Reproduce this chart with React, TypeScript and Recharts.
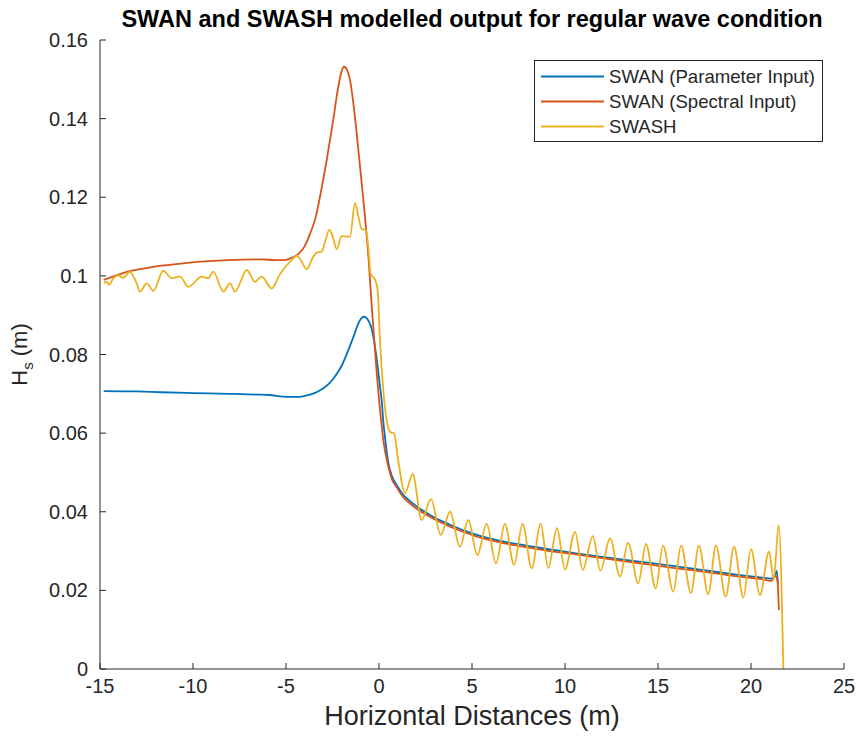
import React from 'react';
import { LineChart, Line, XAxis, YAxis, Legend, Label } from 'recharts';

const TITLE = 'SWAN and SWASH modelled output for regular wave condition';
const X_LABEL = 'Horizontal Distances (m)';

const xTicks = [-15, -10, -5, 0, 5, 10, 15, 20, 25];
const xTickLabels = ['-15', '-10', '-5', '0', '5', '10', '15', '20', '25'];
const yTicks = [0, 0.02, 0.04, 0.06, 0.08, 0.1, 0.12, 0.14, 0.16];
const yTickLabels = ['0', '0.02', '0.04', '0.06', '0.08', '0.1', '0.12', '0.14', '0.16'];

const seriesNames = ['SWAN (Parameter Input)', 'SWAN (Spectral Input)', 'SWASH'];
const seriesColors = ['#0072BD', '#D95319', '#EDB120'];

const swanParamX = [-14.8, -13, -11.7, -10, -8.1, -6.5, -5.9, -5.2, -4.9, -4.4, -3.8, -3.4, -3.1, -2.7, -2.37, -2.0, -1.65, -1.35, -1.11, -0.95, -0.8, -0.65, -0.43, -0.25, -0.1, 0.05, 0.15, 0.23, 0.32, 0.5, 0.7, 0.95, 1.3, 1.67, 2.1, 2.56, 3.2, 3.82, 4.7, 5.61, 6.5, 7.4, 8.3, 9.19, 10.5, 12, 14, 16, 18, 19.4, 20.5, 21.1, 21.3, 21.38, 21.45];
const swanParamY = [0.0707, 0.0706, 0.0704, 0.0702, 0.07, 0.0698, 0.0697, 0.0693, 0.0692, 0.0692, 0.0697, 0.0703, 0.0711, 0.0725, 0.0744, 0.0772, 0.0811, 0.0848, 0.0879, 0.0892, 0.0896, 0.0892, 0.0871, 0.083, 0.078, 0.072, 0.068, 0.063, 0.059, 0.0525, 0.049, 0.0468, 0.0443, 0.0427, 0.0411, 0.0397, 0.038, 0.0367, 0.035, 0.0336, 0.0326, 0.0318, 0.0311, 0.0304, 0.0295, 0.0285, 0.0273, 0.0261, 0.0248, 0.0239, 0.0233, 0.023, 0.024, 0.025, 0.0215];

const swanSpecX = [-14.8, -14.0, -13.5, -12.5, -11.7, -10.5, -9.9, -8.1, -6.3, -5.6, -5.1, -4.7, -4.3, -4.0, -3.7, -3.4, -3.17, -2.81, -2.46, -2.2, -2.0, -1.88, -1.75, -1.56, -1.38, -1.2, -0.84, -0.57, -0.39, -0.12, 0.15, 0.23, 0.5, 0.7, 0.95, 1.3, 1.67, 2.1, 2.56, 3.2, 3.82, 4.7, 5.61, 6.5, 7.4, 8.3, 9.19, 10.5, 12, 14, 16, 18, 19.4, 20.5, 21.1, 21.3, 21.42, 21.5];
const swanSpecY = [0.099, 0.1003, 0.1011, 0.102, 0.1026, 0.1032, 0.1035, 0.104, 0.1042, 0.104, 0.104, 0.1046, 0.1057, 0.1075, 0.1108, 0.115, 0.1202, 0.1295, 0.1397, 0.1478, 0.1522, 0.1532, 0.1527, 0.1498, 0.144, 0.1363, 0.1193, 0.1049, 0.0922, 0.0752, 0.0616, 0.0583, 0.0515, 0.0482, 0.0462, 0.0437, 0.0421, 0.0405, 0.0392, 0.0376, 0.0362, 0.0346, 0.0332, 0.0322, 0.0314, 0.0307, 0.03, 0.0292, 0.0282, 0.0269, 0.0256, 0.0244, 0.0235, 0.0229, 0.0224, 0.0236, 0.0225, 0.015];

const swashX = [-14.8, -14.64, -14.52, -14.28, -14.0, -13.75, -13.4, -13.03, -12.85, -12.49, -12.13, -11.6, -11.15, -10.7, -10.25, -9.53, -9.18, -8.91, -8.37, -8.01, -7.74, -7.11, -6.67, -6.31, -5.77, -5.32, -4.78, -4.42, -4.16, -3.89, -3.53, -3.35, -3.08, -2.9, -2.67, -2.49, -2.27, -2.01, -1.74, -1.56, -1.29, -1.11, -0.93, -0.7, -0.57, -0.45, -0.22, -0.07, 0.05, 0.23, 0.41, 0.59, 0.81, 1.04, 1.4, 1.81, 2.29, 2.8, 3.32, 3.82, 4.35, 4.8, 5.29, 5.79, 6.29, 6.77, 7.26, 7.72, 8.21, 8.69, 9.1, 9.57, 10.0, 10.54, 10.95, 11.5, 11.9, 12.42, 12.96, 13.39, 13.94, 14.35, 14.88, 15.27, 15.82, 16.24, 16.77, 17.2, 17.7, 18.12, 18.64, 19.09, 19.59, 20.0, 20.48, 20.97, 21.22, 21.49, 21.74];
const swashY = [0.0982, 0.0985, 0.0977, 0.0994, 0.1001, 0.0995, 0.101, 0.0981, 0.096, 0.0981, 0.0962, 0.1013, 0.0994, 0.0998, 0.0972, 0.0998, 0.0994, 0.1011, 0.096, 0.0981, 0.096, 0.1015, 0.0985, 0.0998, 0.0968, 0.1005, 0.1036, 0.1051, 0.1036, 0.1017, 0.1049, 0.1059, 0.1062, 0.1087, 0.1117, 0.11, 0.1068, 0.1101, 0.11, 0.11, 0.1185, 0.1151, 0.1119, 0.1117, 0.107, 0.1005, 0.0991, 0.0964, 0.0837, 0.071, 0.0633, 0.0603, 0.0599, 0.0528, 0.0447, 0.0496, 0.0379, 0.0432, 0.0341, 0.04, 0.0311, 0.0379, 0.029, 0.0369, 0.0269, 0.0369, 0.0265, 0.0369, 0.0256, 0.037, 0.0257, 0.0358, 0.0253, 0.0349, 0.0252, 0.0338, 0.025, 0.0332, 0.0235, 0.0321, 0.0218, 0.0318, 0.0205, 0.0314, 0.0197, 0.0314, 0.0193, 0.0314, 0.019, 0.0314, 0.0184, 0.0311, 0.0182, 0.0305, 0.0188, 0.0299, 0.0228, 0.0366, 0.0];

const toData = (xs: number[], ys: number[]) => xs.map((x, i) => ({ x, y: ys[i] }));
const seriesData = [toData(swanParamX, swanParamY), toData(swanSpecX, swanSpecY), toData(swashX, swashY)];

const AXIS = '#262626';
const FONT = '"Liberation Sans", Arial, Helvetica, sans-serif';

const YLabel = (props: any) => {
  const vb = props.viewBox || { x: 0, y: 40, width: 100, height: 629 };
  const cx = 27;
  const cy = vb.y + vb.height / 2;
  return (
    <text x={cx} y={cy} transform={`rotate(-90, ${cx}, ${cy})`} textAnchor="middle" fill={AXIS} fontSize={22} fontFamily={FONT}>
      H<tspan fontSize={15} dy={6}>s</tspan><tspan dy={-6}> (m)</tspan>
    </text>
  );
};

const LegendBox = (props: any) => {
  const payload = props.payload || [];
  return (
    <div style={{ width: 289, height: 82, border: `1px solid ${AXIS}`, background: '#fff', boxSizing: 'border-box', paddingTop: 3, fontFamily: FONT }}>
      {payload.map((p: any, i: number) => (
        <div key={i} style={{ display: 'flex', alignItems: 'center', height: 25 }}>
          <svg width={74} height={25} style={{ flex: 'none' }}>
            <line x1={6} x2={69} y1={12.5} y2={12.5} stroke={p.color} strokeWidth={1.8} />
          </svg>
          <span style={{ fontSize: 18.6, color: AXIS, whiteSpace: 'nowrap', lineHeight: '25px' }}>{p.value}</span>
        </div>
      ))}
    </div>
  );
};

export default function App() {
  return (
    <div style={{ position: 'absolute', left: 0, top: 0, width: 857, height: 738, background: '#fff' }}>
      <LineChart width={857} height={738} margin={{ top: 40, right: 13, bottom: 0, left: 0 }} style={{ fontFamily: FONT }}>
        <XAxis
          dataKey="x"
          type="number"
          domain={[-15, 25]}
          ticks={xTicks}
          tickFormatter={(v: number) => xTickLabels[xTicks.indexOf(v)] ?? String(v)}
          height={69}
          tickSize={-6}
          tickMargin={16}
          axisLine={{ stroke: AXIS }}
          tickLine={{ stroke: AXIS }}
          tick={{ fill: AXIS, fontSize: 20 }}
          allowDataOverflow
        >
          <Label value={X_LABEL} position="insideBottom" offset={13} fill={AXIS} fontSize={27} />
        </XAxis>
        <XAxis
          xAxisId="top"
          orientation="top"
          dataKey="x"
          type="number"
          domain={[-15, 25]}
          ticks={xTicks}
          height={0}
          tickSize={-6}
          tick={false}
          axisLine={{ stroke: AXIS }}
          tickLine={{ stroke: AXIS }}
        />
        <YAxis
          type="number"
          domain={[0, 0.16]}
          ticks={yTicks}
          tickFormatter={(v: number) => yTickLabels[yTicks.indexOf(v)] ?? String(v)}
          width={100}
          tickSize={-6}
          tickMargin={18}
          axisLine={{ stroke: AXIS }}
          tickLine={{ stroke: AXIS }}
          tick={{ fill: AXIS, fontSize: 20 }}
          allowDataOverflow
          label={<YLabel />}
        />
        <YAxis
          yAxisId="right"
          orientation="right"
          type="number"
          domain={[0, 0.16]}
          ticks={yTicks}
          width={0}
          tickSize={-6}
          tick={false}
          axisLine={{ stroke: AXIS }}
          tickLine={{ stroke: AXIS }}
        />
        {seriesData.map((d, i) => (
          <Line
            key={seriesNames[i]}
            data={d}
            dataKey="y"
            name={seriesNames[i]}
            type="monotone"
            stroke={seriesColors[i]}
            strokeWidth={1.8}
            dot={false}
            activeDot={false}
            isAnimationActive={false}
          />
        ))}
        <Legend
          layout="vertical"
          align="center"
          verticalAlign="middle"
          content={<LegendBox />}
          wrapperStyle={{ position: 'absolute', left: 534, top: 60, width: 289, height: 82 }}
        />
      </LineChart>
      <div style={{ position: 'absolute', left: 100, top: 5, width: 744, height: 28, lineHeight: '28px', textAlign: 'center', fontFamily: FONT, fontWeight: 'bold', fontSize: 23.5, color: '#000', whiteSpace: 'nowrap' }}>
        {TITLE}
      </div>
    </div>
  );
}
